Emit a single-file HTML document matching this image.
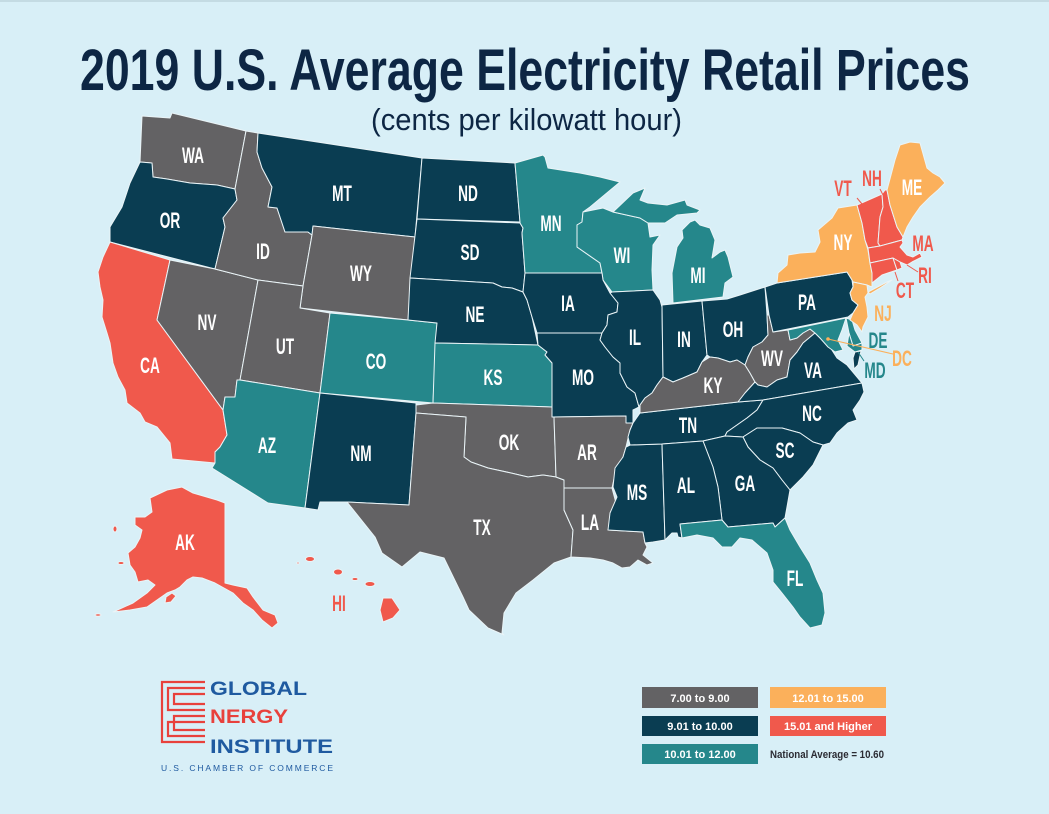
<!DOCTYPE html>
<html><head><meta charset="utf-8"><style>
html,body{margin:0;padding:0;background:#d8eff7;}
svg{display:block;}
.s{stroke:#eaf4f7;stroke-width:1;stroke-linejoin:round;}
.g{fill:#636264}.n{fill:#0a3d52}.t{fill:#25878b}.o{fill:#fbb05b}.r{fill:#f0594c}
.l{font-family:"Liberation Sans",sans-serif;font-weight:bold;font-size:22px;fill:#fff;text-anchor:middle;}
</style></head><body>
<svg width="1049" height="814" viewBox="0 0 1049 814" xmlns="http://www.w3.org/2000/svg">
<rect width="1049" height="814" fill="#d8eff7"/>
<rect width="1049" height="2" fill="#c4dbe3"/>
<text x="80" y="90" textLength="890" lengthAdjust="spacingAndGlyphs" style="font-family:'Liberation Sans',sans-serif;font-weight:bold;font-size:58px;fill:#0d2644">2019 U.S. Average Electricity Retail Prices</text>
<text x="371" y="130" textLength="311" lengthAdjust="spacingAndGlyphs" style="font-family:'Liberation Sans',sans-serif;font-size:31px;fill:#0d2644">(cents per kilowatt hour)</text>

<g class="s">
<polygon class="g" points="142,116 170,118 172,113 246,131 235,189 217,185 190,183 167,179 153,177 152,163 140,162"/>
<polygon class="n" points="140,162 152,163 153,177 167,179 190,183 217,185 235,189 237,200 223,218 225,227 215,269 110,242 110,227 122,207 130,183"/>
<polygon class="r" points="110,242 170,260 157,320 223,410 227,435 220,447 215,452 215,463 172,459 170,443 157,427 145,422 140,413 127,403 125,390 118,377 113,363 110,343 107,333 102,317 103,300 100,287 98,272 103,257"/>
<polygon class="g" points="170,260 215,269 258,280 240,380 237,380 235,397 225,397 223,410 157,320"/>
<polygon class="g" points="246,131 258,133 257,152 262,168 272,187 268,207 277,208 285,232 308,232 312,235 303,286 258,280 215,269 225,227 223,218 237,200 235,189"/>
<polygon class="n" points="258,133 422,158 415,237 313,226 312,235 308,232 285,232 277,208 268,207 272,187 262,168 257,152"/>
<polygon class="g" points="313,226 415,237 408,320 300,308 303,286 312,235"/>
<polygon class="g" points="258,280 303,286 300,308 330,313 320,393 240,380"/>
<polygon class="t" points="330,313 408,320 437,323 433,403 320,393"/>
<polygon class="t" points="240,380 320,393 305,508 268,503 212,468 215,463 215,452 220,447 227,435 223,410 225,397 235,397 237,380"/>
<polygon class="n" points="320,393 416,403 416,413 409,505 347,502 320,502 318,510 305,508"/>
<polygon class="n" points="422,158 515,163 520,222 417,219"/>
<polygon class="n" points="417,219 520,223 523,228 522,233 525,273 523,292 512,288 502,287 493,283 410,278"/>
<polygon class="n" points="410,278 493,283 502,287 512,288 523,292 527,300 532,317 538,345 435,343 437,323 408,320"/>
<polygon class="t" points="435,343 538,345 547,352 545,355 552,363 552,407 433,403"/>
<polygon class="g" points="416,405 433,403 552,407 554,417 556,477 543,475 528,477 511,473 488,468 471,462 464,457 466,417 416,413"/>
<polygon class="g" points="416,413 466,417 464,457 471,462 488,468 511,473 528,477 543,475 556,477 564,480 564,510 573,530 571,557 554,563 533,580 516,593 504,613 502,633 504,635 488,628 469,610 463,597 444,558 420,552 402,567 382,553 375,537 347,502 409,505"/>
<polygon class="t" points="515,163 543,155 545,157 548,168 580,173 600,177 620,182 590,207 583,212 582,222 577,225 577,247 600,263 602,273 525,273 522,233 523,228 520,223 520,222"/>
<polygon class="t" points="583,212 603,208 613,212 640,218 648,223 650,237 660,235 653,245 652,270 653,290 612,292 603,280 602,273 600,263 577,247 577,225 582,222"/>
<polygon class="t" points="613,212 633,193 645,188 640,200 648,203 667,205 685,200 687,205 700,210 697,213 677,215 665,223 648,223 640,218"/>
<polygon class="t" points="673,303 672,273 677,247 683,238 682,230 690,222 695,220 700,225 710,228 715,240 712,258 720,252 725,250 728,257 733,277 725,283 723,297"/>
<polygon class="n" points="525,273 602,273 603,280 610,293 618,303 617,312 608,315 607,325 602,333 537,333 532,317 527,300 523,292"/>
<polygon class="n" points="537,333 602,333 600,340 605,347 613,357 620,363 620,373 627,387 635,393 639,407 633,410 633,423 626,423 626,416 552,417 552,363 545,355 547,352 538,345"/>
<polygon class="g" points="554,417 626,416 626,423 633,423 630,430 626,447 623,457 616,470 612,488 564,488 564,480 556,477"/>
<polygon class="g" points="564,488 612,488 616,503 609,528 608,530 643,532 645,543 647,547 643,555 653,563 647,565 638,560 630,567 622,568 613,563 603,560 590,558 571,557 573,530 564,510"/>
<polygon class="n" points="630,445 662,444 665,540 653,542 645,543 643,532 608,530 610,513 617,497 613,487 615,468 623,457 626,447"/>
<polygon class="n" points="640,413 738,402 763,400 757,410 747,418 737,425 727,432 725,436 703,441 662,444 630,445 628,437 630,430 633,423"/>
<polygon class="n" points="612,292 653,290 660,300 662,307 663,377 657,385 652,393 645,398 640,405 639,407 635,393 627,387 620,373 620,363 613,357 605,347 600,340 602,333 607,325 608,315 617,312 618,303 610,293"/>
<polygon class="n" points="662,305 702,301 707,355 702,362 697,372 683,378 673,382 663,377"/>
<polygon class="n" points="702,301 727,299 740,295 765,287 767,315 768,335 762,342 753,347 748,357 745,365 737,360 730,362 718,358 710,357 707,355"/>
<polygon class="g" points="640,405 645,398 652,393 657,385 663,377 673,382 683,378 697,372 702,362 710,357 718,358 730,362 737,360 745,365 750,373 755,382 745,393 738,402 640,413"/>
<polygon class="g" points="767,315 769,315 773,332 788,330 790,340 797,338 803,333 810,329 815,333 803,343 797,352 790,360 787,377 777,380 767,387 758,385 755,382 750,373 745,365 748,357 753,347 762,342 768,335"/>
<polygon class="n" points="738,402 745,393 755,382 758,385 767,387 777,380 787,377 790,360 797,352 803,343 815,333 820,338 830,347 837,358 847,365 857,377 862,383 763,400"/>
<polygon class="n" points="765,287 777,283 847,272 852,280 853,287 850,293 852,300 858,305 853,313 848,317 773,332 769,315"/>
<polygon class="t" points="788,330 846,318 842,330 838,340 843,350 835,352 828,347 820,338 815,333 810,329 803,333 797,338 790,340"/>
<polygon class="t" points="846,318 852,320 855,330 862,343 853,346 849,333"/>
<polygon class="t" points="849,333 853,346 862,343 862,350 855,352 847,346"/>
<polygon class="n" points="855,352 861,351 858,365 854,369 853,358"/>
<polygon class="o" points="777,283 778,273 787,265 788,255 800,253 815,252 820,242 818,230 832,218 838,208 857,205 862,223 865,240 868,250 870,263 872,273 872,287 867,285 853,282 852,280 847,272"/>
<polygon class="o" points="868,292 887,282 892,280 880,288 870,294"/>
<polygon class="o" points="853,282 867,285 868,293 865,297 867,307 868,317 863,327 862,332 857,325 850,320 853,313 858,305 852,300 850,293 853,287"/>
<polygon class="r" points="857,205 882,194 883,207 880,217 878,243 880,246 868,248 865,240 862,223"/>
<polygon class="r" points="882,194 885,190 887,190 890,205 897,227 903,237 902,240 880,246 878,243 880,217 883,207"/>
<polygon class="o" points="890,205 887,190 895,160 900,145 910,142 920,143 927,168 933,173 940,177 945,183 938,190 930,197 920,207 913,217 907,227 903,237 897,227"/>
<polygon class="r" points="868,248 880,246 902,240 903,243 900,247 907,255 913,257 920,253 922,257 912,262 907,265 900,262 893,258 870,263"/>
<polygon class="r" points="870,263 893,258 897,270 882,275 872,283 872,273"/>
<polygon class="r" points="893,258 900,262 902,268 897,270"/>
<polygon class="n" points="763,400 862,383 864,392 860,400 853,410 857,420 848,423 837,433 830,443 823,445 813,442 800,433 782,428 757,428 743,437 725,436 727,432 737,425 747,418 757,410"/>
<polygon class="n" points="743,437 757,428 782,428 800,433 813,442 823,445 817,457 813,465 803,477 790,490 782,480 773,468 760,460 748,447"/>
<polygon class="n" points="703,441 725,436 743,437 748,447 760,460 773,468 782,480 790,490 787,507 785,518 775,527 773,523 728,527 722,520 720,503 718,487 713,467"/>
<polygon class="n" points="662,444 703,441 713,467 718,487 720,503 722,520 680,524 682,538 678,537 677,533 672,533 667,538 665,540"/>
<polygon class="t" points="680,524 722,520 728,527 773,523 775,527 785,518 790,530 800,547 810,563 817,580 823,593 825,613 822,625 810,628 800,617 793,607 782,593 773,582 773,570 767,553 752,540 740,538 732,547 722,547 713,538 697,535 682,538"/>
<polygon class="r" points="150,498 167,490 182,487 193,493 217,500 225,503 225,583 233,585 247,588 253,597 263,610 275,615 278,623 272,628 262,620 253,610 243,603 233,593 215,583 202,578 193,577 187,580 180,587 175,590 167,593 157,600 147,607 130,610 113,612 133,603 147,593 155,585 148,580 138,582 135,572 130,565 128,553 135,547 140,538 142,530 135,525 135,517 145,517 152,512"/>
<polygon class="r" points="166,597 172,593 176,596 171,602 165,603"/>
<ellipse class="r" cx="115" cy="529" rx="2" ry="3"/>
<ellipse class="r" cx="121" cy="563" rx="3" ry="1.5"/>
<ellipse class="r" cx="98" cy="615" rx="3" ry="1.2"/>
<ellipse class="r" cx="310" cy="559" rx="4.5" ry="2.5"/>
<ellipse class="r" cx="298" cy="563" rx="1.2" ry="1"/>
<ellipse class="r" cx="338" cy="572" rx="4.5" ry="3"/>
<ellipse class="r" cx="355" cy="579" rx="3" ry="1.5"/>
<ellipse class="r" cx="370" cy="584" rx="5" ry="2.5"/>
<polygon class="r" points="383,598 392,598 400,610 393,618 383,622 380,610"/>
</g>

<g fill="none" stroke-width="1">
<line x1="857" y1="198" x2="862" y2="204" stroke="#f0594c"/>
<line x1="880" y1="189" x2="883" y2="195" stroke="#f0594c"/>
<line x1="907" y1="265" x2="918" y2="272" stroke="#f0594c"/>
<line x1="895" y1="272" x2="898" y2="281" stroke="#f0594c"/>
<line x1="828" y1="339" x2="893" y2="354" stroke="#fbb05b"/>
<line x1="858" y1="352" x2="864" y2="361" stroke="#25878b"/>
</g>
<circle cx="828" cy="339" r="1.8" fill="#fbb05b"/>

<g class="l">
<text transform="translate(193,163) scale(0.62,1)">WA</text>
<text transform="translate(170,228) scale(0.62,1)">OR</text>
<text transform="translate(342,201) scale(0.62,1)">MT</text>
<text transform="translate(263,259) scale(0.62,1)">ID</text>
<text transform="translate(361,281) scale(0.62,1)">WY</text>
<text transform="translate(207,330) scale(0.62,1)">NV</text>
<text transform="translate(285,354) scale(0.62,1)">UT</text>
<text transform="translate(376,369) scale(0.62,1)">CO</text>
<text transform="translate(150,373) scale(0.62,1)">CA</text>
<text transform="translate(468,201) scale(0.62,1)">ND</text>
<text transform="translate(470,260) scale(0.62,1)">SD</text>
<text transform="translate(551,231) scale(0.62,1)">MN</text>
<text transform="translate(622,263) scale(0.62,1)">WI</text>
<text transform="translate(698,283) scale(0.62,1)">MI</text>
<text transform="translate(475,322) scale(0.62,1)">NE</text>
<text transform="translate(568,311) scale(0.62,1)">IA</text>
<text transform="translate(493,385) scale(0.62,1)">KS</text>
<text transform="translate(583,385) scale(0.62,1)">MO</text>
<text transform="translate(635,345) scale(0.62,1)">IL</text>
<text transform="translate(684,347) scale(0.62,1)">IN</text>
<text transform="translate(733,337) scale(0.62,1)">OH</text>
<text transform="translate(713,393) scale(0.62,1)">KY</text>
<text transform="translate(807,310) scale(0.62,1)">PA</text>
<text transform="translate(772,366) scale(0.62,1)">WV</text>
<text transform="translate(813,378) scale(0.62,1)">VA</text>
<text transform="translate(688,433) scale(0.62,1)">TN</text>
<text transform="translate(812,421) scale(0.62,1)">NC</text>
<text transform="translate(785,458) scale(0.62,1)">SC</text>
<text transform="translate(745,491) scale(0.62,1)">GA</text>
<text transform="translate(686,493) scale(0.62,1)">AL</text>
<text transform="translate(637,500) scale(0.62,1)">MS</text>
<text transform="translate(587,460) scale(0.62,1)">AR</text>
<text transform="translate(509,450) scale(0.62,1)">OK</text>
<text transform="translate(590,530) scale(0.62,1)">LA</text>
<text transform="translate(482,535) scale(0.62,1)">TX</text>
<text transform="translate(361,461) scale(0.62,1)">NM</text>
<text transform="translate(795,586) scale(0.62,1)">FL</text>
<text transform="translate(267,453) scale(0.62,1)">AZ</text>
<text transform="translate(185,550) scale(0.62,1)">AK</text>
<text transform="translate(843,250) scale(0.62,1)">NY</text>
<text transform="translate(912,195) scale(0.62,1)">ME</text>
<text transform="translate(339,611) scale(0.62,1)" style="fill:#f0594c">HI</text>
<text transform="translate(843,196) scale(0.62,1)" style="fill:#f0594c">VT</text>
<text transform="translate(872,186) scale(0.62,1)" style="fill:#f0594c">NH</text>
<text transform="translate(923,251) scale(0.62,1)" style="fill:#f0594c">MA</text>
<text transform="translate(925,283) scale(0.62,1)" style="fill:#f0594c">RI</text>
<text transform="translate(905,298) scale(0.62,1)" style="fill:#f0594c">CT</text>
<text transform="translate(883,321) scale(0.62,1)" style="fill:#fbb05b">NJ</text>
<text transform="translate(878,348) scale(0.62,1)" style="fill:#25878b">DE</text>
<text transform="translate(902,366) scale(0.62,1)" style="fill:#fbb05b">DC</text>
<text transform="translate(875,378) scale(0.62,1)" style="fill:#25878b">MD</text>
</g>

<!-- Logo -->
<g fill="none" stroke="#e8413c" stroke-width="2.2">
<path d="M205,682 H162 V742 H205"/>
<path d="M205,688 H168 V710 H205 M205,722 H168 V736 H205"/>
<path d="M205,694 H174 V704 H205 M205,716 H174 V730 H205"/>
</g>
<g style="font-family:'Liberation Sans',sans-serif;font-weight:bold;">
<text x="210" y="695" textLength="97" lengthAdjust="spacingAndGlyphs" style="font-size:19px;fill:#1f5aa0">GLOBAL</text>
<text x="210" y="723" textLength="78" lengthAdjust="spacingAndGlyphs" style="font-size:19px;fill:#e8413c">NERGY</text>
<text x="210" y="753" textLength="123" lengthAdjust="spacingAndGlyphs" style="font-size:19px;fill:#1f5aa0">INSTITUTE</text>
</g>
<text x="161" y="771" textLength="172" lengthAdjust="spacing" style="font-family:'Liberation Sans',sans-serif;font-size:8.5px;fill:#1f5aa0">U.S. CHAMBER OF COMMERCE</text>

<!-- Legend -->
<rect x="642" y="687" width="116" height="21" fill="#636264"/>
<rect x="642" y="716" width="116" height="20" fill="#0a3d52"/>
<rect x="642" y="744" width="116" height="20" fill="#25878b"/>
<rect x="770" y="687" width="116" height="21" fill="#fbb05b"/>
<rect x="770" y="716" width="116" height="20" fill="#f0594c"/>
<g style="font-family:'Liberation Sans',sans-serif;font-weight:bold;font-size:11px;fill:#fff;text-anchor:middle">
<text x="700" y="702">7.00 to 9.00</text>
<text x="700" y="730">9.01 to 10.00</text>
<text x="700" y="758">10.01 to 12.00</text>
<text x="828" y="702">12.01 to 15.00</text>
<text x="828" y="730">15.01 and Higher</text>
</g>
<text x="770" y="758" textLength="114" lengthAdjust="spacingAndGlyphs" style="font-family:'Liberation Sans',sans-serif;font-weight:bold;font-size:11px;fill:#2b2b33">National Average = 10.60</text>
</svg>
</body></html>
